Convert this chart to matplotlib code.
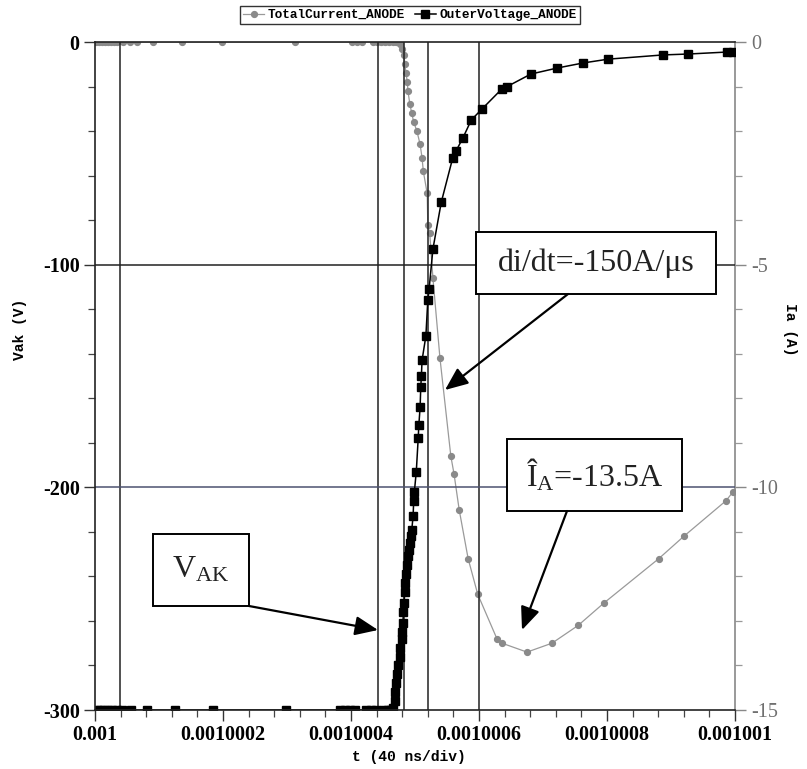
import matplotlib
matplotlib.use('Agg')
import matplotlib.pyplot as plt
from matplotlib.patches import Rectangle, FancyArrowPatch
from matplotlib.ticker import MultipleLocator

# ---------------- data (time as ns offset from t = 0.001 s) ----------------
volt_t_ns = [3, 8, 14, 20, 27, 34, 42, 56, 81, 125, 184, 298, 383, 391, 398, 406,
             423, 431, 439, 452, 458, 462,
             466, 468, 469, 471, 472, 474, 476, 477, 479, 480, 481, 482, 483, 484,
             485, 486, 488, 489, 491, 492, 494, 495, 497, 498, 499, 502, 505, 506,
             508, 509, 510, 511, 517, 520, 522, 528, 541, 559, 564, 575, 588, 605,
             636, 644, 681, 722, 763, 802, 888, 927, 988, 997]
volt_v = [-300, -300, -300, -300, -300, -300, -300, -300, -300, -300, -300, -300,
          -300, -300, -300, -300, -300, -300, -300, -300, -300, -300,
          -299, -296, -292, -288, -284, -280, -276, -272, -268, -265, -261, -256,
          -252, -247, -243, -239, -235, -231, -228, -225, -222, -219, -213, -206,
          -202, -193, -178, -172, -164, -155, -150, -143, -132, -116, -111, -93,
          -72, -52, -49, -43, -35, -30, -21, -20, -14.4, -11.7, -9.4, -7.7, -5.8,
          -5.4, -4.5, -4.5]

curr_t_ns = [2, 6, 11, 16, 20, 25, 30, 34, 44, 55, 66, 91, 136, 198, 313, 402, 409,
             417, 434, 441, 447, 453, 459, 466, 470, 473,
             477, 480, 483, 484, 486, 488, 489, 492, 495, 498, 503, 508, 511, 513,
             519, 520, 523, 528, 539, 556, 561, 569, 583, 598, 628, 636, 675, 714,
             755, 795, 881, 920, 986, 997]
curr_a = [0, 0, 0, 0, 0, 0, 0, 0, 0, 0, 0, 0, 0, 0, 0, 0, 0, 0, 0, 0, 0, 0, 0, 0,
          0, 0,
          -0.05, -0.15, -0.3, -0.5, -0.7, -0.9, -1.1, -1.4, -1.6, -1.8, -2.0, -2.3,
          -2.6, -2.9, -3.4, -4.1, -4.3, -5.3, -7.1, -9.3, -9.7, -10.5, -11.6, -12.4,
          -13.4, -13.5, -13.7, -13.5, -13.1, -12.6, -11.6, -11.1, -10.3, -10.1]

cursor_ns = [39, 442, 483, 520, 600]

x_ticks_ns = [0, 200, 400, 600, 800, 1000]
x_tick_labels = ['0.001', '0.0010002', '0.0010004', '0.0010006', '0.0010008', '0.001001']
v_ticks = [-300, -200, -100, 0]
v_tick_labels = ['-300', '-200', '-100', '0']
i_ticks = [-15, -10, -5, 0]
i_tick_labels = ['-15', '-10', '-5', '0']

series_names = ['TotalCurrent_ANODE', 'OuterVoltage_ANODE']
note_didt = 'di/dt=-150A/\u03bcs'
note_ia = '$\\mathregular{\u00ce_A}$=-13.5A'
note_vak = '$\\mathregular{V_{AK}}$'

# ---------------- figure ----------------
W, H = 807, 769
fig = plt.figure(figsize=(W / 100, H / 100), dpi=100)
fig.patch.set_facecolor('white')


def P(x, y):
    return (x / W, 1 - y / H)


ax = fig.add_axes([95 / W, 1 - 710 / H, 640 / W, 668 / H])
ax2 = ax.twinx()
ax.set_zorder(ax2.get_zorder() + 1)
ax.patch.set_visible(False)

mono = 'Liberation Mono'
serif = 'Liberation Serif'

# reference lines
for c in cursor_ns:
    ax.axvline(c, color='#222222', lw=1.1, zorder=1)
ax.axhline(-100, color='#222222', lw=1.1, zorder=1)
ax.axhline(-200, color='#4d5270', lw=1.1, zorder=1)

# series
l_cur, = ax2.plot(curr_t_ns, curr_a, color='#9a9a9a', lw=0.9, marker='o',
                  markersize=4.2, markerfacecolor='#8a8a8a', markeredgecolor='#8a8a8a')
l_volt, = ax.plot(volt_t_ns, volt_v, color='black', lw=1.1, marker='s',
                  markersize=6, markerfacecolor='black', markeredgecolor='black')

ax.set_xlim(0, 1000)
ax.set_ylim(-300, 0)
ax2.set_ylim(-15, 0)

ax.set_xticks(x_ticks_ns)
ax.set_xticklabels(x_tick_labels, fontfamily=serif, fontweight='bold', fontsize=14.5)
ax.xaxis.set_minor_locator(MultipleLocator(40))
ax.set_yticks(v_ticks)
ax.set_yticklabels(v_tick_labels, fontfamily=serif, fontweight='bold', fontsize=14.5)
ax.yaxis.set_minor_locator(MultipleLocator(20))
ax2.set_yticks(i_ticks)
ax2.set_yticklabels(i_tick_labels, fontfamily=serif, fontsize=14.5, color='#707070')
ax2.yaxis.set_minor_locator(MultipleLocator(1))

ax.tick_params(which='major', direction='out', length=8, width=1.0, color='#333333')
ax.tick_params(which='minor', direction='out', length=5, width=0.9, color='#444444')
ax2.tick_params(which='major', direction='out', length=8, width=1.0, color='#888888')
ax2.tick_params(which='minor', direction='out', length=5, width=0.9, color='#999999')
ax.tick_params(axis='x', pad=3)
ax.tick_params(axis='y', pad=3)
ax2.tick_params(axis='y', pad=4)

for s in ['left', 'top', 'bottom']:
    ax.spines[s].set_color('#222222')
    ax.spines[s].set_linewidth(1.2)
ax2.spines['right'].set_color('#888888')
ax2.spines['right'].set_linewidth(1.2)
ax.spines['right'].set_visible(False)
for s in ['left', 'top', 'bottom']:
    ax2.spines[s].set_visible(False)

ax.set_xlabel('t (40 ns/div)', fontfamily=mono, fontweight='bold', fontsize=10.5,
              va='center')
ax.xaxis.set_label_coords(0.49, -(757 - 710) / 668)
ax.set_ylabel('Vak (V)', fontfamily=mono, fontweight='bold', fontsize=10.5, va='center')
ax.yaxis.set_label_coords(-(95 - 20) / 640, 0.57)
ax2.set_ylabel('Ia (A)', fontfamily=mono, fontweight='bold', fontsize=10.5,
               rotation=270, va='center')
ax2.yaxis.set_label_coords((790 - 95) / 640, 0.57)

leg = fig.legend([l_cur, l_volt], series_names, loc='upper center',
                 bbox_to_anchor=P(410, 6), ncol=2, frameon=True, fancybox=False,
                 prop={'family': mono, 'weight': 'bold', 'size': 9.2},
                 handlelength=1.6, handletextpad=0.3, columnspacing=0.8,
                 borderpad=0.25, borderaxespad=0)
leg.get_frame().set_edgecolor('black')
leg.get_frame().set_linewidth(1.0)


# annotation boxes + arrows
def box(x0, y0, x1, y1, text):
    (fx0, fy1) = P(x0, y0)
    (fx1, fy0) = P(x1, y1)
    r = Rectangle((fx0, fy0), fx1 - fx0, fy1 - fy0, transform=fig.transFigure,
                  facecolor='white', edgecolor='black', lw=1.4, zorder=5)
    fig.add_artist(r)
    cx, cy = P((x0 + x1) / 2, (y0 + y1) / 2)
    fig.text(cx, cy, text, ha='center', va='center', fontfamily=serif,
             fontsize=23, color='#222222', zorder=6)


def arrow(x0, y0, x1, y1):
    a = FancyArrowPatch(P(x0, y0), P(x1, y1), transform=fig.transFigure,
                        arrowstyle='-|>,head_length=1.0,head_width=0.42',
                        mutation_scale=14, lw=1.6, color='black',
                        shrinkA=0, shrinkB=0, zorder=5)
    fig.add_artist(a)


box(476, 232, 716, 294, note_didt)
arrow(568, 294, 445, 390)
box(507, 439, 682, 511, note_ia)
arrow(567, 511, 522, 630)
box(153, 534, 249, 606, note_vak)
arrow(249, 606, 378, 630)

fig.savefig('out.png', dpi=100, facecolor='white')
